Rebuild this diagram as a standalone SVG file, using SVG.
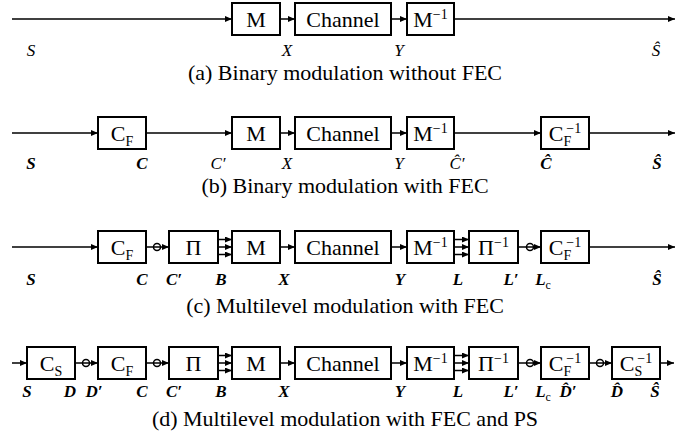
<svg xmlns="http://www.w3.org/2000/svg" width="694" height="441" viewBox="0 0 694 441" font-family="'Liberation Serif', 'DejaVu Serif', serif">
<defs>
<marker id="ah" markerUnits="userSpaceOnUse" markerWidth="8" markerHeight="6" refX="7" refY="3" orient="auto">
<path d="M0,0 L7,3 L0,6 z" fill="#000"/>
</marker>
</defs>
<style>
text{font-family:'Liberation Serif','DejaVu Serif',serif;fill:#000}
.box{fill:#fff;stroke:#000;stroke-width:2}
.bt{font-size:22px;text-anchor:middle}
.sm{font-size:14px}
.ar{stroke:#000;stroke-width:1.5;fill:none;marker-end:url(#ah)}
.ring{stroke:#000;stroke-width:1.5;fill:none}
.lb{font-size:17px;font-style:italic;text-anchor:middle}
.bd{font-weight:bold}
.cap{font-size:22px;text-anchor:middle}
.sub{font-size:12px;font-style:normal;font-weight:normal}
</style>
<rect width="694" height="441" fill="#fff"/>

<g id="connectors">
<line class="ar" x1="12" y1="19" x2="232" y2="19"/>
<line class="ar" x1="280" y1="19" x2="295" y2="19"/>
<line class="ar" x1="391" y1="19" x2="407" y2="19"/>
<line class="ar" x1="454" y1="19" x2="675" y2="19"/>
<line class="ar" x1="12" y1="133" x2="98" y2="133"/>
<line class="ar" x1="146" y1="133" x2="232" y2="133"/>
<line class="ar" x1="280" y1="133" x2="295" y2="133"/>
<line class="ar" x1="391" y1="133" x2="407" y2="133"/>
<line class="ar" x1="454" y1="133" x2="541" y2="133"/>
<line class="ar" x1="589" y1="133" x2="675" y2="133"/>
<line class="ar" x1="12" y1="247" x2="98" y2="247"/>
<line class="ar" x1="146" y1="247" x2="169" y2="247"/>
<circle class="ring" cx="157" cy="247" r="3.5"/>
<line class="ar" x1="218" y1="239.5" x2="232" y2="239.5"/>
<line class="ar" x1="218" y1="247" x2="232" y2="247"/>
<line class="ar" x1="218" y1="254.5" x2="232" y2="254.5"/>
<line class="ar" x1="280" y1="247" x2="295" y2="247"/>
<line class="ar" x1="391" y1="247" x2="407" y2="247"/>
<line class="ar" x1="454" y1="239.5" x2="469" y2="239.5"/>
<line class="ar" x1="454" y1="247" x2="469" y2="247"/>
<line class="ar" x1="454" y1="254.5" x2="469" y2="254.5"/>
<line class="ar" x1="518" y1="247" x2="541" y2="247"/>
<circle class="ring" cx="530" cy="247" r="3.5"/>
<line class="ar" x1="589" y1="247" x2="675" y2="247"/>
<line class="ar" x1="12" y1="363" x2="27" y2="363"/>
<line class="ar" x1="75" y1="363" x2="98" y2="363"/>
<circle class="ring" cx="86" cy="363" r="3.5"/>
<line class="ar" x1="146" y1="363" x2="169" y2="363"/>
<circle class="ring" cx="157" cy="363" r="3.5"/>
<line class="ar" x1="218" y1="355.5" x2="232" y2="355.5"/>
<line class="ar" x1="218" y1="363" x2="232" y2="363"/>
<line class="ar" x1="218" y1="370.5" x2="232" y2="370.5"/>
<line class="ar" x1="280" y1="363" x2="295" y2="363"/>
<line class="ar" x1="391" y1="363" x2="407" y2="363"/>
<line class="ar" x1="454" y1="355.5" x2="469" y2="355.5"/>
<line class="ar" x1="454" y1="363" x2="469" y2="363"/>
<line class="ar" x1="454" y1="370.5" x2="469" y2="370.5"/>
<line class="ar" x1="518" y1="363" x2="541" y2="363"/>
<circle class="ring" cx="530" cy="363" r="3.5"/>
<line class="ar" x1="589" y1="363" x2="612" y2="363"/>
<circle class="ring" cx="600" cy="363" r="3.5"/>
<line class="ar" x1="660" y1="363" x2="674" y2="363"/>
</g>

<g id="a-M"><rect class="box" x="232" y="3" width="48" height="32"/><text class="bt" x="256" y="26.5">M</text></g>
<g id="a-Channel"><rect class="box" x="295" y="3" width="96" height="32"/><text class="bt" x="343" y="26.5">Channel</text></g>
<g id="a-Minv"><rect class="box" x="407" y="3" width="47" height="32"/><text class="bt" x="430.5" y="26.5">M<tspan class="sm" dy="-8">−1</tspan></text></g>

<g id="b-CF"><rect class="box" x="98" y="117" width="48" height="32"/><text class="bt" x="122" y="140.5">C<tspan class="sm" dy="5">F</tspan></text></g>
<g id="b-M"><rect class="box" x="232" y="117" width="48" height="32"/><text class="bt" x="256" y="140.5">M</text></g>
<g id="b-Channel"><rect class="box" x="295" y="117" width="96" height="32"/><text class="bt" x="343" y="140.5">Channel</text></g>
<g id="b-Minv"><rect class="box" x="407" y="117" width="47" height="32"/><text class="bt" x="430.5" y="140.5">M<tspan class="sm" dy="-8">−1</tspan></text></g>
<g id="b-CFinv"><rect class="box" x="541" y="117" width="48" height="32"/><text class="bt" x="565" y="140.5">C<tspan class="sm" dy="5">F</tspan><tspan class="sm" dx="-5" dy="-13">−1</tspan></text></g>

<g id="c-CF"><rect class="box" x="98" y="231" width="48" height="32"/><text class="bt" x="122" y="254.5">C<tspan class="sm" dy="5">F</tspan></text></g>
<g id="c-Pi"><rect class="box" x="169" y="231" width="49" height="32"/><text class="bt" x="193.5" y="254.5">Π</text></g>
<g id="c-M"><rect class="box" x="232" y="231" width="48" height="32"/><text class="bt" x="256" y="254.5">M</text></g>
<g id="c-Channel"><rect class="box" x="295" y="231" width="96" height="32"/><text class="bt" x="343" y="254.5">Channel</text></g>
<g id="c-Minv"><rect class="box" x="407" y="231" width="47" height="32"/><text class="bt" x="430.5" y="254.5">M<tspan class="sm" dy="-8">−1</tspan></text></g>
<g id="c-Piinv"><rect class="box" x="469" y="231" width="49" height="32"/><text class="bt" x="493.5" y="254.5">Π<tspan class="sm" dy="-8">−1</tspan></text></g>
<g id="c-CFinv"><rect class="box" x="541" y="231" width="48" height="32"/><text class="bt" x="565" y="254.5">C<tspan class="sm" dy="5">F</tspan><tspan class="sm" dx="-5" dy="-13">−1</tspan></text></g>

<g id="d-CS"><rect class="box" x="27" y="347" width="48" height="32"/><text class="bt" x="51" y="370.5">C<tspan class="sm" dy="5">S</tspan></text></g>
<g id="d-CF"><rect class="box" x="98" y="347" width="48" height="32"/><text class="bt" x="122" y="370.5">C<tspan class="sm" dy="5">F</tspan></text></g>
<g id="d-Pi"><rect class="box" x="169" y="347" width="49" height="32"/><text class="bt" x="193.5" y="370.5">Π</text></g>
<g id="d-M"><rect class="box" x="232" y="347" width="48" height="32"/><text class="bt" x="256" y="370.5">M</text></g>
<g id="d-Channel"><rect class="box" x="295" y="347" width="96" height="32"/><text class="bt" x="343" y="370.5">Channel</text></g>
<g id="d-Minv"><rect class="box" x="407" y="347" width="47" height="32"/><text class="bt" x="430.5" y="370.5">M<tspan class="sm" dy="-8">−1</tspan></text></g>
<g id="d-Piinv"><rect class="box" x="469" y="347" width="49" height="32"/><text class="bt" x="493.5" y="370.5">Π<tspan class="sm" dy="-8">−1</tspan></text></g>
<g id="d-CFinv"><rect class="box" x="541" y="347" width="48" height="32"/><text class="bt" x="565" y="370.5">C<tspan class="sm" dy="5">F</tspan><tspan class="sm" dx="-5" dy="-13">−1</tspan></text></g>
<g id="d-CSinv"><rect class="box" x="612" y="347" width="48" height="32"/><text class="bt" x="636" y="370.5">C<tspan class="sm" dy="5">S</tspan><tspan class="sm" dx="-5" dy="-13">−1</tspan></text></g>

<g id="labels-a">
<text class="lb" x="31" y="56">S</text>
<text class="lb" x="287" y="56">X</text>
<text class="lb" x="399" y="56">Y</text>
<text class="lb" x="656" y="56">Ŝ</text>
</g>
<g id="labels-b">
<text class="lb bd" x="31" y="169">S</text>
<text class="lb bd" x="142" y="169">C</text>
<text class="lb" x="218" y="169">C′</text>
<text class="lb" x="287" y="169">X</text>
<text class="lb" x="399" y="169">Y</text>
<text class="lb" x="457" y="169">Ĉ′</text>
<text class="lb bd" x="546" y="169">Ĉ</text>
<text class="lb bd" x="657" y="169">Ŝ</text>
</g>
<g id="labels-c">
<text class="lb bd" x="31" y="285">S</text>
<text class="lb bd" x="142" y="285">C</text>
<text class="lb bd" x="174" y="285">C′</text>
<text class="lb bd" x="221" y="285">B</text>
<text class="lb bd" x="284" y="285">X</text>
<text class="lb bd" x="400" y="285">Y</text>
<text class="lb bd" x="458" y="285">L</text>
<text class="lb bd" x="511" y="285">L′</text>
<text class="lb bd" x="543" y="285">L<tspan class="sub" dy="4">c</tspan></text>
<text class="lb bd" x="657" y="285">Ŝ</text>
</g>
<g id="labels-d">
<text class="lb bd" x="27" y="397">S</text>
<text class="lb bd" x="70" y="397">D</text>
<text class="lb bd" x="94" y="397">D′</text>
<text class="lb bd" x="142" y="397">C</text>
<text class="lb bd" x="174" y="397">C′</text>
<text class="lb bd" x="221" y="397">B</text>
<text class="lb bd" x="284" y="397">X</text>
<text class="lb bd" x="400" y="397">Y</text>
<text class="lb bd" x="458" y="397">L</text>
<text class="lb bd" x="511" y="397">L′</text>
<text class="lb bd" x="543" y="397">L<tspan class="sub" dy="4">c</tspan></text>
<text class="lb bd" x="568" y="397">D̂′</text>
<text class="lb bd" x="617" y="397">D̂</text>
<text class="lb bd" x="655" y="397">Ŝ</text>
</g>

<g id="captions">
<text class="cap" x="345" y="80">(a) Binary modulation without FEC</text>
<text class="cap" x="345" y="193">(b) Binary modulation with FEC</text>
<text class="cap" x="345" y="313">(c) Multilevel modulation with FEC</text>
<text class="cap" x="345" y="426">(d) Multilevel modulation with FEC and PS</text>
</g>
</svg>
